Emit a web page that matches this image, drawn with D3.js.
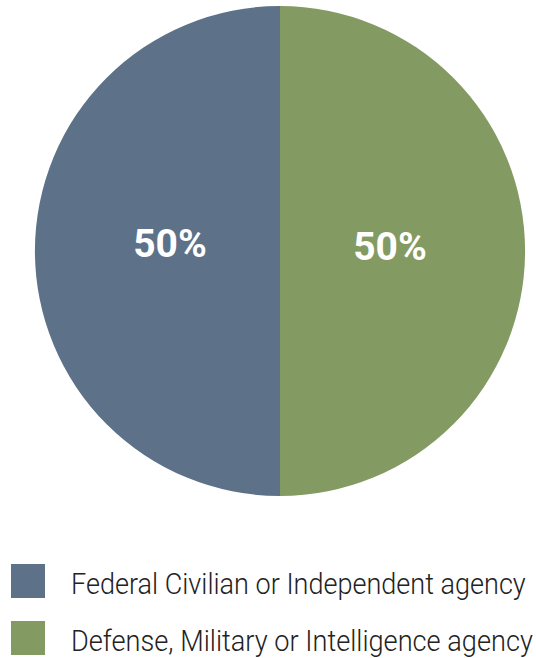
<!DOCTYPE html>
<html>
<head>
<meta charset="utf-8">
<script src="https://cdn.jsdelivr.net/npm/d3@7"></script>
<style>
  html, body { margin: 0; padding: 0; background: #fff; }
  svg { display: block; }
</style>
</head>
<body>
<svg id="chart" width="536" height="658"></svg>
<script>
// Agency type shares
const categories = ["Federal Civilian or Independent agency", "Defense, Military or Intelligence agency"];
const shares = [50, 50];
const colors = ["#5d7189", "#839a63"];

const svg = d3.select("#chart");
const cx = 280, cy = 251, radius = 245;

const pie = d3.pie()
  .sort(null)
  .value(d => d.value)
  .startAngle(Math.PI)
  .endAngle(3 * Math.PI);

const data = categories.map((c, i) => ({ name: c, value: shares[i], color: colors[i] }));
const arcs = pie(data);

const arc = d3.arc().innerRadius(0).outerRadius(radius);
const labelArc = d3.arc().innerRadius(0).outerRadius(220);

const g = svg.append("g").attr("transform", `translate(${cx},${cy})`);

g.selectAll("path.slice")
  .data(arcs)
  .join("path")
  .attr("class", "slice")
  .attr("d", arc)
  .attr("fill", d => d.data.color);

g.selectAll("text.pct")
  .data(arcs)
  .join("text")
  .attr("class", "pct")
  .attr("x", d => labelArc.centroid(d)[0])
  .attr("y", (d, i) => labelArc.centroid(d)[1] + (i === 0 ? 6 : 9))
  .attr("text-anchor", "middle")
  .attr("font-family", "Roboto, sans-serif")
  .attr("font-weight", 700)
  .attr("font-size", 39)
  .attr("fill", "#ffffff")
  .text(d => d.data.value + "%");

// Legend
const rowY = d3.scaleOrdinal().domain(categories).range([564, 621]);
const textWidths = [455, 462];

const items = svg.append("g").selectAll("g.item")
  .data(data)
  .join("g")
  .attr("class", "item")
  .attr("transform", d => `translate(11,${rowY(d.name)})`);

items.append("rect")
  .attr("width", 34)
  .attr("height", 34)
  .attr("fill", d => d.color);

// Legend labels are drawn in a narrowed face: scale each one horizontally to its width
items.append("g")
  .attr("class", "lbl")
  .attr("transform", "translate(60,30)")
  .append("text")
  .attr("font-family", "Roboto, sans-serif")
  .attr("font-weight", 300)
  .attr("font-size", 29)
  .attr("fill", "#222")
  .text(d => d.name)
  .each(function (d, i) {
    const w = this.getComputedTextLength();
    d3.select(this.parentNode).attr("transform", `translate(60,30) scale(${textWidths[i] / w},1)`);
  });
</script>
</body>
</html>
